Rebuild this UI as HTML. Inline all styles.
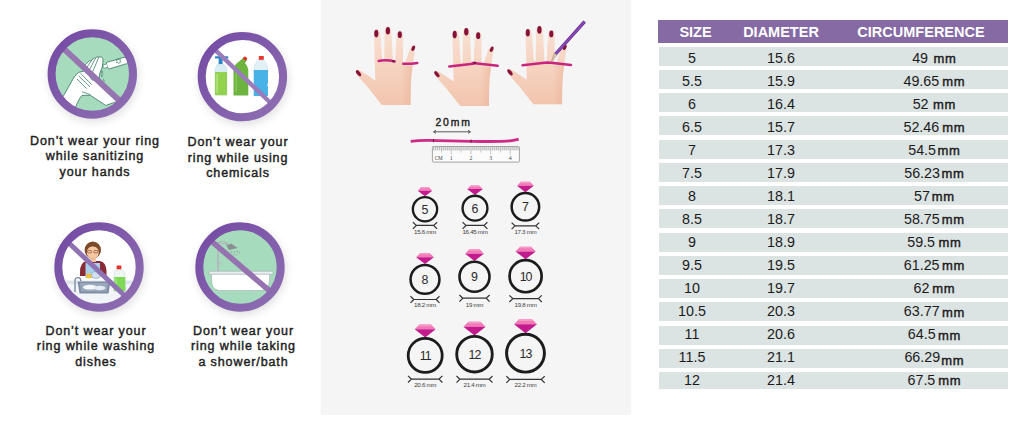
<!DOCTYPE html>
<html><head><meta charset="utf-8">
<style>
*{margin:0;padding:0;box-sizing:border-box}
html,body{width:1028px;height:424px;overflow:hidden;background:#fff}
body{position:relative;font-family:"Liberation Sans",sans-serif}
.abs{position:absolute}
#mid{position:absolute;left:320.7px;top:0;width:310.8px;height:414.5px;background:#f5f5f5;box-shadow:-1px 0 2px rgba(0,0,0,0.02)}
.lbl{position:absolute;width:160px;text-align:center;font-weight:normal;-webkit-text-stroke:0.45px #1f1f1f;font-size:12.5px;line-height:15.5px;letter-spacing:0.9px;color:#1f1f1f}
#hdr{position:absolute;left:658px;top:20px;width:350px;height:22.7px;background:#866aa4}
.h{position:absolute;top:0;height:22px;line-height:24px;color:#fff;font-weight:bold;font-size:14.5px;letter-spacing:0;text-align:center;width:160px}
.row{position:absolute;left:659px;width:349px;height:19px;background:#dce3e3}
.c{position:absolute;top:0;height:19px;line-height:23px;font-size:14.3px;color:#1b1b1b;text-align:center;width:100px;white-space:nowrap}
.c1{left:-17px}
.c2{left:72px}
.c3{left:225.4px}
.mm{font-weight:normal;-webkit-text-stroke:0.4px #1b1b1b;font-size:13px;letter-spacing:0.7px}
</style></head><body>
<div id="mid"></div>
<!--ICONS-->
<svg class="abs" style="left:0;top:0" width="1028" height="424" viewBox="0 0 1028 424">
<defs>
  <linearGradient id="rg" x1="0" y1="0" x2="1" y2="1">
    <stop offset="0" stop-color="#7349a3"/>
    <stop offset="1" stop-color="#8f70b2"/>
  </linearGradient>
  <filter id="sh" x="-30%" y="-30%" width="160%" height="160%"><feGaussianBlur stdDeviation="5"/></filter>
  <clipPath id="c1"><circle cx="92.3" cy="74" r="40.9"/></clipPath>
  <clipPath id="c2"><circle cx="242.4" cy="76.6" r="40.9"/></clipPath>
  <clipPath id="c3"><circle cx="99" cy="267" r="40.9"/></clipPath>
  <clipPath id="c4"><circle cx="240" cy="267" r="40.9"/></clipPath>
</defs>
<!-- shadows -->
<g filter="url(#sh)" fill="#000" opacity="0.13">
  <circle cx="93.5" cy="77" r="44.5"/>
  <circle cx="243.6" cy="80" r="44.5"/>
  <circle cx="100.2" cy="270" r="44.5"/>
  <circle cx="241.2" cy="270" r="44.5"/>
</g>

<!-- ICON 1: sanitizing -->
<g clip-path="url(#c1)">
  <circle cx="92.3" cy="74" r="41" fill="#a7dbbd"/>
  <!-- lower white region (hands) -->
  <path d="M48,114 L63.8,95.3 L74.4,76.5 L78.6,72.4 L84,71 L122,101 L116.3,101.8 L105.7,105.4 L90.4,95.3 L82.1,95.3 L79.7,98.3 L76.2,105.4 L72,116 Z" fill="#fff" stroke="#2a6e55" stroke-width="0.75" stroke-linejoin="round"/>
  <path d="M80.5,73.2 L91.5,84.5 M78.6,75.8 L90,86.8 M77,79 L86.5,88.5 M82.1,91.8 L90.4,94.6" stroke="#2a6e55" stroke-width="0.7" fill="none"/>
  <!-- upper hand fingers (above bar) -->
  <path d="M83.5,66.5 L89.3,60.8 Q90.3,60.3 91,61.2 L93.6,58 Q94.6,57.4 95.4,58.3 L97.1,56.9 Q98.1,56.4 98.8,57.2 L100.4,56.8 Q102.3,56.8 102.8,58.6 L103,62 L102,68 L100.2,72 L99.2,77 L100,80 L92,80 Z" fill="#fff" stroke="#2a6e55" stroke-width="0.75" stroke-linejoin="round"/>
  <path d="M91,61.2 L86.8,67.5 M95.4,58.3 L89.5,69.8 M98.8,57.2 L92.6,72" stroke="#2a6e55" stroke-width="0.7" fill="none"/>
  <!-- drops -->
  <path d="M101.9,70.5 Q100.3,74.5 101.9,76.8 Q103.6,74.5 101.9,70.5 Z" fill="#fff" stroke="#2a6e55" stroke-width="0.6"/>
  <path d="M103.6,79.3 Q102.3,81.6 103.6,82.6 Q105,81.6 103.6,79.3 Z" fill="#fff" stroke="#2a6e55" stroke-width="0.55"/>
  <!-- bottle -->
  <path d="M106.9,62.3 L125.2,57 Q127,56.6 127.4,58.3 L128,61.6 Q128.3,63.3 126.6,63.7 L109.6,68.8 Q108,69.2 107.6,67.7 L106.5,63.8 Q106.2,62.6 106.9,62.3 Z" fill="#fff" stroke="#2a6e55" stroke-width="0.75"/>
  <path d="M106.7,64 L103.4,64.9 L102.8,67.3 L104.5,68.3 L107.5,67.2" fill="#fff" stroke="#2a6e55" stroke-width="0.6"/>
  <path d="M118.2,58.6 l0.9,1.2 l1.5,-0.2 l-0.6,1.4 l0.9,1.2 l-1.5,0.1 l-0.6,1.4 l-0.9,-1.2 l-1.5,0.1 l0.6,-1.4 l-0.9,-1.2 l1.5,-0.1 z" fill="none" stroke="#2a6e55" stroke-width="0.55"/>
  <line x1="58" y1="43.4" x2="126" y2="106.8" stroke="#9676b0" stroke-width="6"/>
</g>
<circle cx="92.3" cy="74" r="40.7" fill="none" stroke="url(#rg)" stroke-width="8"/>

<!-- ICON 2: chemicals -->
<g clip-path="url(#c2)">
  <circle cx="242.4" cy="77" r="41" fill="#fff"/>
  <!-- spray bottle -->
  <rect x="215" y="56.3" width="13.3" height="2.2" rx="0.6" fill="#2d86c8"/>
  <rect x="218.6" y="58" width="4" height="6" fill="#2d86c8"/>
  <path d="M217.5,64.5 L224,64.5 Q227,67 227,71 L227,95 L215,95 L215,71 Q215,67 217.5,64.5 Z" fill="#d9edf4" stroke="#a8cfe0" stroke-width="0.4"/>
  <path d="M215,72 L227,72 L227,94.5 Q227,95.3 226,95.3 L216,95.3 Q215,95.3 215,94.5 Z" fill="#92d24e"/>
  <rect x="216.5" y="74" width="1.2" height="19" fill="#bfe68f"/>
  <!-- toilet bottle -->
  <path d="M233.5,95.5 L233.5,70 Q233.5,66 236,64 L242,59 L244.5,57 L247,60 L245,63 Q248,66 248.3,70 L248.3,95.5 Z" fill="#6db33f"/>
  <path d="M242.5,58.2 L245,56.2 L247.5,58.5 L245.5,61 Z" fill="#e3332c"/>
  <rect x="235.5" y="70" width="1.2" height="22" fill="#8ccc5a"/>
  <!-- blue bottle -->
  <rect x="258.8" y="56" width="5" height="4" rx="0.6" fill="#e8352e"/>
  <path d="M258.5,60 L264,60 Q267.5,64 267.5,69 L267.5,96 L254,96 L254,69 Q254,64 258.5,60 Z" fill="#e2f0f8" stroke="#b6d8ea" stroke-width="0.4"/>
  <path d="M253.8,70 L268,70 L268,83 Q266.5,85 268,87 L268,96 L253.8,96 L253.8,87 Q255.3,85 253.8,83 Z" fill="#48b1e5"/>
  <line x1="212" y1="46.9" x2="272" y2="104.3" stroke="#9a7bbb" stroke-width="4.3"/>
</g>
<circle cx="242.4" cy="76.6" r="40.7" fill="none" stroke="url(#rg)" stroke-width="8"/>

<!-- ICON 3: dishes -->
<g clip-path="url(#c3)">
  <circle cx="99" cy="267" r="41" fill="#fff"/>
  <!-- counter -->
  <rect x="58" y="280.5" width="82" height="4" fill="#dde4ec"/>
  <rect x="58" y="284.5" width="82" height="30" fill="#f1f4f8"/>
  <!-- woman -->
  <path d="M80,272 Q80,262 87,261 L100,261 Q106,262 106.5,271 L106.5,276 L80,276 Z" fill="#8b2b36"/>
  <path d="M85.5,263 L100,263 L100,278 L85.5,278 Z" fill="#a9d0eb"/>
  <rect x="90" y="256" width="6" height="6" fill="#f2c6a0"/>
  <ellipse cx="92.8" cy="250" rx="8.2" ry="8.6" fill="#7b4a2b"/>
  <ellipse cx="92.8" cy="252.5" rx="6" ry="6.2" fill="#f4c9a2"/>
  <path d="M86.5,249 Q92.5,243 99.5,249 L99,246 Q93,240 86.5,246 Z" fill="#7b4a2b"/>
  <rect x="87.5" y="250.5" width="4" height="2.4" rx="1" fill="none" stroke="#7b2b2b" stroke-width="0.6"/>
  <rect x="93.8" y="250.5" width="4" height="2.4" rx="1" fill="none" stroke="#7b2b2b" stroke-width="0.6"/>
  <ellipse cx="89" cy="276" rx="3" ry="2.5" fill="#f0c43a"/>
  <ellipse cx="96" cy="275" rx="4.5" ry="3.5" fill="#cfe0ee" stroke="#7a93b3" stroke-width="0.5"/>
  <!-- sink -->
  <path d="M77.5,281.5 L110.5,281.5 L108.5,293.5 L79.5,293.5 Z" fill="#7f8ea5"/>
  <path d="M80,283 L108,283 L106.8,291.5 L81.2,291.5 Z" fill="#9aa8bc"/>
  <ellipse cx="90" cy="287.2" rx="7" ry="2.4" fill="#f4f7fb"/>
  <ellipse cx="99.5" cy="288" rx="6" ry="2.2" fill="#e3ebf4"/>
  <path d="M75,292 L75,281 Q75,277.6 78,277.6 Q80.8,277.6 80.8,281" fill="none" stroke="#7d8da3" stroke-width="1.4"/>
  <!-- dish soap -->
  <rect x="116.6" y="265.4" width="4.8" height="4" rx="0.6" fill="#e3332c"/>
  <path d="M115.3,269.8 L122.7,269.8 L125,273.5 L125.6,291.5 L113.8,291.5 L114,273.5 Z" fill="#eef6f4" stroke="#b9d3cf" stroke-width="0.4"/>
  <path d="M114.3,277 L125.2,277 L125.5,291 L114,291 Z" fill="#7fd957"/>
  <rect x="115.6" y="278.5" width="1" height="11" fill="#b4ec96"/>
  <line x1="62" y1="236.5" x2="134" y2="304.5" stroke="#8f72b2" stroke-width="5"/>
</g>
<circle cx="99" cy="267" r="40.7" fill="none" stroke="url(#rg)" stroke-width="8"/>

<!-- ICON 4: shower -->
<g clip-path="url(#c4)">
  <circle cx="240" cy="267" r="41" fill="#a7dbbd"/>
  <path d="M218,272 L218,246 Q218,242.5 222,242.5 Q226,242.5 227.5,245" fill="none" stroke="#8a8f94" stroke-width="1.9"/><path d="M218,272 L218,246 Q218,242.5 222,242.5 Q226,242.5 227.5,245" fill="none" stroke="#f4f6f6" stroke-width="0.8"/>
  <path d="M226.5,245.5 L231,243.5 L237.5,248 L229,250 Z" fill="#8a8f94"/>
  <path d="M231,251 l1,2 M234,251 l1,2 M237,250.5 l1,2 M233,254 l1,1.5 M236,254 l1,1.5 M239,252 l0.8,1.5" stroke="#7d8388" stroke-width="0.6"/>
  <rect x="219.6" y="262" width="1.8" height="2.8" fill="#b8bdc2"/>
  <rect x="209" y="271.3" width="64" height="3" rx="0.8" fill="#e8eef0" stroke="#9aa4aa" stroke-width="0.5"/>
  <path d="M211.3,274.3 L269.8,274.3 L269,284 Q267,290.5 260,290.5 L221,290.5 Q213,290.5 212,284 Z" fill="#fff" stroke="#9aa4aa" stroke-width="0.5"/>
  <rect x="219.8" y="290.3" width="2" height="1.8" fill="#c9ced2"/>
  <rect x="253.7" y="290.3" width="2" height="1.8" fill="#c9ced2"/>
  <line x1="205" y1="235.7" x2="276" y2="296.4" stroke="#9473b0" stroke-width="5.6"/>
</g>
<circle cx="240" cy="267" r="40.7" fill="none" stroke="url(#rg)" stroke-width="8"/>
<!--MID-->
<defs>
  <linearGradient id="skin" x1="0" y1="0" x2="0" y2="1">
    <stop offset="0" stop-color="#f9e1d3"/>
    <stop offset="0.55" stop-color="#f6d2bf"/>
    <stop offset="1" stop-color="#f2c5ae"/>
  </linearGradient>
  <linearGradient id="shR" x1="0" y1="0" x2="1" y2="0">
    <stop offset="0" stop-color="#e6ad92" stop-opacity="0"/>
    <stop offset="1" stop-color="#e6ad92" stop-opacity="0.45"/>
  </linearGradient>
  <g id="hand">
    <path d="M356,70.6 Q357.5,69.3 360.5,70.8 L368,75.5 Q373,79 375.3,80.5 L374,36 Q374,29 377,29 Q380,29 380.5,35 L382.3,61 Q383.2,62.7 384.2,61 L384.6,32 Q385,26.5 388,26.5 Q391,26.5 391.4,32 L393,62 Q394,63.7 395.1,62 L396.6,35.5 Q397,30.5 400,30.5 Q403,30.5 403.1,35.5 L403,63 Q404,64.5 405.1,62.8 L410,48.5 Q411.5,45 413.6,45.6 Q415.6,46.6 415,49.8 L412.6,66 Q411,76 410.7,88 L410.6,105 L381.8,105 L368,87.5 L358.5,76.8 Q355,73 356,70.6 Z" fill="url(#skin)"/>
    <path d="M403,66 L412.6,66 Q411,76 410.7,88 L410.6,105 L401,105 Z" fill="url(#shR)"/>
    <g fill="#86123a">
      <ellipse cx="376.3" cy="33.6" rx="2.1" ry="3.8"/>
      <ellipse cx="387.9" cy="30.7" rx="2.2" ry="3.8"/>
      <ellipse cx="399.8" cy="34.7" rx="2.1" ry="3.4"/>
      <ellipse cx="413.3" cy="48.2" rx="1.6" ry="2.9" transform="rotate(25 413.3 48.2)"/>
      <ellipse cx="358.5" cy="73.2" rx="1.7" ry="3.6" transform="rotate(-39 358.5 73.2)"/>
    </g>
  </g>
</defs>
<use href="#hand"/>
<use href="#hand" transform="translate(78.4,1)"/>
<use href="#hand" transform="translate(151.5,-0.8)"/>
<!-- bands -->
<g stroke-linecap="round" fill="none" stroke="#c8267e" stroke-width="2.5">
  <path d="M378.6,60.9 Q386.5,59.6 394.6,61.4"/>
  <path d="M403.3,63.7 Q410,64 417.3,62.9"/>
  <path d="M449.2,66.4 L473,63.8"/>
  <path d="M472.8,62.9 L497.7,65.8"/>
  <path d="M522.6,65.3 L546.8,62.6 L551,62.8 L571,64.9"/>
</g>
<path d="M394.6,61.4 L392.5,61.2" stroke="#6a0f3e" stroke-width="2.3" fill="none"/>
<path d="M473.6,62.6 L476,63.2" stroke="#7a1048" stroke-width="2.3" fill="none"/>
<!-- pencil -->
<path d="M555.6,54 L584.6,21.6" stroke="#55267c" stroke-width="3.3" stroke-linecap="butt"/>
<path d="M555.6,54 L584.6,21.6" stroke="#8d48ba" stroke-width="2.1" stroke-linecap="butt"/>
<path d="M554.3,52.9 L557,55.2 L551.5,61.2 Z" fill="#d9c4a8" stroke="#7b6b5b" stroke-width="0.35"/>
<!-- 20mm -->
<text x="435.4" y="125.6" font-family="Liberation Sans" font-size="10.4" letter-spacing="1.9" fill="#222" stroke="#222" stroke-width="0.4">20mm</text>
<g stroke="#333" stroke-width="0.8" fill="none">
  <path d="M434,131.8 L470,131.8"/>
  <path d="M436,130.3 L433.5,131.8 L436,133.3"/>
  <path d="M468,130.3 L470.5,131.8 L468,133.3"/>
</g>
<path d="M410.7,141.4 Q418,140.3 428,140.4 Q450,140.7 472,141.4 Q500,141.9 510,140.9 Q515,140.3 518.6,139.2" stroke="#cf2a86" stroke-width="2.9" fill="none"/>
<path d="M433.5,139 L433.5,142.2 M471,139.6 L471,142.8" stroke="#5a1236" stroke-width="0.9"/>
<!-- ruler -->
<rect x="432.4" y="146.5" width="87" height="15.6" rx="0.8" fill="#fbfbfb" stroke="#9a9a9a" stroke-width="0.9"/>
<rect x="432.9" y="147" width="86" height="3.6" fill="#e6e6e6"/>

<path d="M433.61,147 v3.2 M435.58,147 v3.2 M437.54,147 v3.2 M439.51,147 v3.2 M441.47,147 v5.5 M443.44,147 v3.2 M445.40,147 v3.2 M447.37,147 v3.2 M449.33,147 v3.2 M451.30,147 v7.5 M453.26,147 v3.2 M455.23,147 v3.2 M457.19,147 v3.2 M459.16,147 v3.2 M461.12,147 v5.5 M463.09,147 v3.2 M465.05,147 v3.2 M467.02,147 v3.2 M468.98,147 v3.2 M470.95,147 v7.5 M472.91,147 v3.2 M474.88,147 v3.2 M476.84,147 v3.2 M478.81,147 v3.2 M480.77,147 v5.5 M482.74,147 v3.2 M484.70,147 v3.2 M486.67,147 v3.2 M488.63,147 v3.2 M490.60,147 v7.5 M492.56,147 v3.2 M494.53,147 v3.2 M496.50,147 v3.2 M498.46,147 v3.2 M500.42,147 v5.5 M502.39,147 v3.2 M504.35,147 v3.2 M506.32,147 v3.2 M508.28,147 v3.2 M510.25,147 v7.5 M512.21,147 v3.2 M514.18,147 v3.2 M516.14,147 v3.2 M518.11,147 v3.2" stroke="#8a8a8a" stroke-width="0.45"/>
<g font-family="Liberation Serif" font-size="5.8" fill="#444" text-anchor="middle">
<text x="438.7" y="159.8" font-size="5.2">CM</text>
<text x="451.30" y="159.8">1</text>
<text x="470.95" y="159.8">2</text>
<text x="490.60" y="159.8">3</text>
<text x="510.25" y="159.8">4</text>
</g>
<!--RINGS-->
<path d="M420.99,187.32 L429.01,187.32 L432.30,190.68 L417.70,190.68 Z" fill="#f27ab6"/>
<path d="M421.29,187.32 L428.71,187.32 L429.81,188.50 L420.19,188.50 Z" fill="#f69bc8"/>
<path d="M417.70,190.68 L432.30,190.68 L425.00,196.30 Z" fill="#c31a8d"/>
<circle cx="425" cy="209.2" r="12.14" fill="none" stroke="#1c1c1c" stroke-width="2.33"/>
<path d="M416.30,225.40 L433.70,225.40 M412.90,222.20 L416.30,225.40 L412.90,228.80 M437.10,222.20 L433.70,225.40 L437.10,228.80" fill="none" stroke="#333" stroke-width="1.2"/>
<text x="425" y="233.9" font-family="Liberation Sans" font-size="6.2" fill="#3c3c3c" text-anchor="middle" letter-spacing="-0.3">15.6 mm</text>
<text x="425" y="213.65" font-family="Liberation Sans" font-size="12.4" fill="#2a2a2a" text-anchor="middle" letter-spacing="0">5</text>
<path d="M470.71,185.41 L479.29,185.41 L482.80,188.99 L467.20,188.99 Z" fill="#f27ab6"/>
<path d="M471.01,185.41 L478.99,185.41 L480.09,186.66 L469.91,186.66 Z" fill="#f69bc8"/>
<path d="M467.20,188.99 L482.80,188.99 L475.00,195.00 Z" fill="#c31a8d"/>
<circle cx="475" cy="208.2" r="12.42" fill="none" stroke="#1c1c1c" stroke-width="2.35"/>
<path d="M466.00,225.40 L484.00,225.40 M462.60,222.20 L466.00,225.40 L462.60,228.80 M487.40,222.20 L484.00,225.40 L487.40,228.80" fill="none" stroke="#333" stroke-width="1.2"/>
<text x="475" y="233.9" font-family="Liberation Sans" font-size="6.2" fill="#3c3c3c" text-anchor="middle" letter-spacing="-0.3">16.45 mm</text>
<text x="475" y="212.65" font-family="Liberation Sans" font-size="12.4" fill="#2a2a2a" text-anchor="middle" letter-spacing="0">6</text>
<path d="M520.78,181.87 L530.02,181.87 L533.80,185.73 L517.00,185.73 Z" fill="#f27ab6"/>
<path d="M521.08,181.87 L529.72,181.87 L530.82,183.22 L519.98,183.22 Z" fill="#f69bc8"/>
<path d="M517.00,185.73 L533.80,185.73 L525.40,192.20 Z" fill="#c31a8d"/>
<circle cx="525.4" cy="206.8" r="13.76" fill="none" stroke="#1c1c1c" stroke-width="2.48"/>
<path d="M515.00,225.80 L535.80,225.80 M511.60,222.60 L515.00,225.80 L511.60,229.20 M539.20,222.60 L535.80,225.80 L539.20,229.20" fill="none" stroke="#333" stroke-width="1.2"/>
<text x="525.4" y="233.9" font-family="Liberation Sans" font-size="6.2" fill="#3c3c3c" text-anchor="middle" letter-spacing="-0.3">17.3 mm</text>
<text x="525.4" y="211.25" font-family="Liberation Sans" font-size="12.4" fill="#2a2a2a" text-anchor="middle" letter-spacing="0">7</text>
<path d="M420.11,253.15 L429.89,253.15 L433.90,257.25 L416.10,257.25 Z" fill="#f27ab6"/>
<path d="M420.41,253.15 L429.59,253.15 L430.69,254.59 L419.31,254.59 Z" fill="#f69bc8"/>
<path d="M416.10,257.25 L433.90,257.25 L425.00,264.10 Z" fill="#c31a8d"/>
<circle cx="425" cy="279.4" r="14.43" fill="none" stroke="#1c1c1c" stroke-width="2.54"/>
<path d="M413.90,299.50 L436.10,299.50 M410.50,296.30 L413.90,299.50 L410.50,302.90 M439.50,296.30 L436.10,299.50 L439.50,302.90" fill="none" stroke="#333" stroke-width="1.2"/>
<text x="425" y="307.2" font-family="Liberation Sans" font-size="6.2" fill="#3c3c3c" text-anchor="middle" letter-spacing="-0.3">18.2 mm</text>
<text x="425" y="283.85" font-family="Liberation Sans" font-size="12.4" fill="#2a2a2a" text-anchor="middle" letter-spacing="0">8</text>
<path d="M469.33,249.34 L479.67,249.34 L483.90,253.66 L465.10,253.66 Z" fill="#f27ab6"/>
<path d="M469.63,249.34 L479.37,249.34 L480.47,250.85 L468.53,250.85 Z" fill="#f69bc8"/>
<path d="M465.10,253.66 L483.90,253.66 L474.50,260.90 Z" fill="#c31a8d"/>
<circle cx="474.5" cy="276.8" r="15.00" fill="none" stroke="#1c1c1c" stroke-width="2.60"/>
<path d="M462.80,298.20 L486.20,298.20 M459.40,295.00 L462.80,298.20 L459.40,301.60 M489.60,295.00 L486.20,298.20 L489.60,301.60" fill="none" stroke="#333" stroke-width="1.2"/>
<text x="474.5" y="307.0" font-family="Liberation Sans" font-size="6.2" fill="#3c3c3c" text-anchor="middle" letter-spacing="-0.3">19 mm</text>
<text x="474.5" y="281.25" font-family="Liberation Sans" font-size="12.4" fill="#2a2a2a" text-anchor="middle" letter-spacing="0">9</text>
<path d="M520.02,246.72 L531.18,246.72 L535.75,251.38 L515.45,251.38 Z" fill="#f27ab6"/>
<path d="M520.32,246.72 L530.88,246.72 L531.98,248.35 L519.22,248.35 Z" fill="#f69bc8"/>
<path d="M515.45,251.38 L535.75,251.38 L525.60,259.20 Z" fill="#c31a8d"/>
<circle cx="525.6" cy="276.2" r="16.05" fill="none" stroke="#1c1c1c" stroke-width="2.70"/>
<path d="M512.80,298.60 L538.40,298.60 M509.40,295.40 L512.80,298.60 L509.40,302.00 M541.80,295.40 L538.40,298.60 L541.80,302.00" fill="none" stroke="#333" stroke-width="1.2"/>
<text x="525.6" y="307.0" font-family="Liberation Sans" font-size="6.2" fill="#3c3c3c" text-anchor="middle" letter-spacing="-0.3">19.8 mm</text>
<text x="525.6" y="280.65" font-family="Liberation Sans" font-size="12.4" fill="#2a2a2a" text-anchor="middle" letter-spacing="-1.0">10</text>
<path d="M419.43,324.49 L430.97,324.49 L435.70,329.31 L414.70,329.31 Z" fill="#f27ab6"/>
<path d="M419.73,324.49 L430.67,324.49 L431.77,326.18 L418.62,326.18 Z" fill="#f69bc8"/>
<path d="M414.70,329.31 L435.70,329.31 L425.20,337.40 Z" fill="#c31a8d"/>
<circle cx="425.2" cy="355.4" r="17.01" fill="none" stroke="#1c1c1c" stroke-width="2.79"/>
<path d="M411.40,379.10 L439.00,379.10 M408.00,375.90 L411.40,379.10 L408.00,382.50 M442.40,375.90 L439.00,379.10 L442.40,382.50" fill="none" stroke="#333" stroke-width="1.2"/>
<text x="425.2" y="387.4" font-family="Liberation Sans" font-size="6.2" fill="#3c3c3c" text-anchor="middle" letter-spacing="-0.3">20.6 mm</text>
<text x="425.2" y="359.85" font-family="Liberation Sans" font-size="12.4" fill="#2a2a2a" text-anchor="middle" letter-spacing="-1.0">11</text>
<path d="M468.39,321.75 L480.61,321.75 L485.60,326.85 L463.40,326.85 Z" fill="#f27ab6"/>
<path d="M468.69,321.75 L480.31,321.75 L481.41,323.53 L467.59,323.53 Z" fill="#f69bc8"/>
<path d="M463.40,326.85 L485.60,326.85 L474.50,335.40 Z" fill="#c31a8d"/>
<circle cx="474.5" cy="354.2" r="17.77" fill="none" stroke="#1c1c1c" stroke-width="2.86"/>
<path d="M459.90,379.20 L489.10,379.20 M456.50,376.00 L459.90,379.20 L456.50,382.60 M492.50,376.00 L489.10,379.20 L492.50,382.60" fill="none" stroke="#333" stroke-width="1.2"/>
<text x="474.5" y="387.4" font-family="Liberation Sans" font-size="6.2" fill="#3c3c3c" text-anchor="middle" letter-spacing="-0.3">21.4 mm</text>
<text x="474.5" y="358.65" font-family="Liberation Sans" font-size="12.4" fill="#2a2a2a" text-anchor="middle" letter-spacing="-1.0">12</text>
<path d="M519.17,319.05 L531.83,319.05 L537.00,324.34 L514.00,324.34 Z" fill="#f27ab6"/>
<path d="M519.47,319.05 L531.53,319.05 L532.62,320.91 L518.38,320.91 Z" fill="#f69bc8"/>
<path d="M514.00,324.34 L537.00,324.34 L525.50,333.20 Z" fill="#c31a8d"/>
<circle cx="525.5" cy="353.2" r="18.92" fill="none" stroke="#1c1c1c" stroke-width="2.97"/>
<path d="M509.70,379.40 L541.30,379.40 M506.30,376.20 L509.70,379.40 L506.30,382.80 M544.70,376.20 L541.30,379.40 L544.70,382.80" fill="none" stroke="#333" stroke-width="1.2"/>
<text x="525.5" y="387.4" font-family="Liberation Sans" font-size="6.2" fill="#3c3c3c" text-anchor="middle" letter-spacing="-0.3">22.2 mm</text>
<text x="525.5" y="357.65" font-family="Liberation Sans" font-size="12.4" fill="#2a2a2a" text-anchor="middle" letter-spacing="-1.0">13</text>
<!--/RINGS-->
</svg>

<!--/ICONS-->

<!-- left labels -->
<div class="lbl" style="left:15px;top:133.8px">Don’t wear your ring<br>while sanitizing<br>your hands</div>
<div class="lbl" style="left:158px;top:135.3px">Don’t wear your<br>ring while using<br>chemicals</div>
<div class="lbl" style="left:16px;top:323.6px">Don’t wear your<br>ring while washing<br>dishes</div>
<div class="lbl" style="left:163.5px;top:323.6px">Don’t wear your<br>ring while taking<br>a shower/bath</div>

<!-- table -->
<div id="hdr">
  <div class="h" style="left:-42.5px">SIZE</div>
  <div class="h" style="left:43px">DIAMETER</div>
  <div class="h" style="left:183px">CIRCUMFERENCE</div>
</div>
<div class="row" style="top:46.70px"><div class="c c1" style="top:-0.00px">5</div><div class="c c2" style="top:-0.00px">15.6</div><div class="c c3" style="top:-0.00px">49<span class="mm" style="margin-left:5.5px">mm</span></div></div>
<div class="row" style="top:69.95px"><div class="c c1" style="top:-0.25px">5.5</div><div class="c c2" style="top:-0.25px">15.9</div><div class="c c3" style="top:-0.25px">49.65<span class="mm" style="margin-left:3.0px">mm</span></div></div>
<div class="row" style="top:93.20px"><div class="c c1" style="top:-0.50px">6</div><div class="c c2" style="top:-0.50px">16.4</div><div class="c c3" style="top:-0.50px">52<span class="mm" style="margin-left:4.5px">mm</span></div></div>
<div class="row" style="top:116.45px"><div class="c c1" style="top:-0.75px">6.5</div><div class="c c2" style="top:-0.75px">15.7</div><div class="c c3" style="top:-0.75px">52.46<span class="mm" style="margin-left:3.0px">mm</span></div></div>
<div class="row" style="top:139.70px"><div class="c c1" style="top:-1.00px">7</div><div class="c c2" style="top:-1.00px">17.3</div><div class="c c3" style="top:-1.00px">54.5<span class="mm" style="margin-left:1.5px">mm</span></div></div>
<div class="row" style="top:162.95px"><div class="c c1" style="top:-1.25px">7.5</div><div class="c c2" style="top:-1.25px">17.9</div><div class="c c3" style="top:-1.25px">56.23<span class="mm" style="margin-left:1.5px">mm</span></div></div>
<div class="row" style="top:186.20px"><div class="c c1" style="top:-1.50px">8</div><div class="c c2" style="top:-1.50px">18.1</div><div class="c c3" style="top:-1.50px">57<span class="mm" style="margin-left:1.9px">mm</span></div></div>
<div class="row" style="top:209.45px"><div class="c c1" style="top:-1.75px">8.5</div><div class="c c2" style="top:-1.75px">18.7</div><div class="c c3" style="top:-1.75px">58.75<span class="mm" style="margin-left:2.0px">mm</span></div></div>
<div class="row" style="top:232.70px"><div class="c c1" style="top:-2.00px">9</div><div class="c c2" style="top:-2.00px">18.9</div><div class="c c3" style="top:-2.00px">59.5<span class="mm" style="margin-left:3.5px">mm</span></div></div>
<div class="row" style="top:255.95px"><div class="c c1" style="top:-2.25px">9.5</div><div class="c c2" style="top:-2.25px">19.5</div><div class="c c3" style="top:-2.25px">61.25<span class="mm" style="margin-left:2.4px">mm</span></div></div>
<div class="row" style="top:279.20px"><div class="c c1" style="top:-2.50px">10</div><div class="c c2" style="top:-2.50px">19.7</div><div class="c c3" style="top:-2.50px">62<span class="mm" style="margin-left:2.8px">mm</span></div></div>
<div class="row" style="top:302.45px"><div class="c c1" style="top:-2.75px">10.5</div><div class="c c2" style="top:-2.75px">20.3</div><div class="c c3" style="top:-2.75px">63.77<span class="mm" style="margin-left:2.3px;position:relative;top:1.5px">mm</span></div></div>
<div class="row" style="top:325.70px"><div class="c c1" style="top:-3.00px">11</div><div class="c c2" style="top:-3.00px">20.6</div><div class="c c3" style="top:-3.00px">64.5<span class="mm" style="margin-left:2.3px;position:relative;top:1px">mm</span></div></div>
<div class="row" style="top:348.95px"><div class="c c1" style="top:-3.25px">11.5</div><div class="c c2" style="top:-3.25px">21.1</div><div class="c c3" style="top:-3.25px">66.29<span class="mm" style="margin-left:1.2px;position:relative;top:3px">mm</span></div></div>
<div class="row" style="top:372.20px;height:16.6px"><div class="c c1" style="top:-3.50px">12</div><div class="c c2" style="top:-3.50px">21.4</div><div class="c c3" style="top:-3.50px">67.5<span class="mm" style="margin-left:2.9px">mm</span></div></div>
</body></html>
